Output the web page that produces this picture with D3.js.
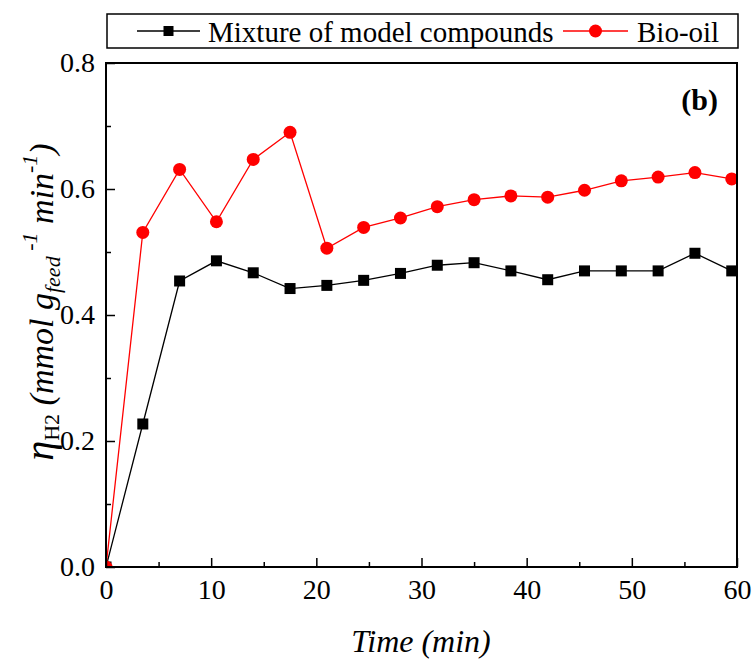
<!DOCTYPE html>
<html><head><meta charset="utf-8">
<script src="https://cdn.jsdelivr.net/npm/d3@7"></script>
<style>body{margin:0;background:#fff}svg{display:block}</style>
</head><body><svg id="c" width="752" height="660"></svg>
<script>
const times = [0,3.5,7,10.5,14,17.5,21,24.5,28,31.5,35,38.5,42,45.5,49,52.5,56,59.5];
const mixture = [0,0.227,0.454,0.486,0.467,0.442,0.447,0.455,0.466,0.479,0.483,0.470,0.456,0.470,0.470,0.470,0.498,0.470];
const bioOil = [0,0.531,0.631,0.548,0.647,0.690,0.506,0.539,0.554,0.572,0.583,0.589,0.587,0.598,0.613,0.619,0.626,0.616];
const xTicks = [0,10,20,30,40,50,60];
const yTicks = [0,0.2,0.4,0.6,0.8];
const seriesNames = ["Mixture of model compounds","Bio-oil"];

const FONT = "Liberation Serif";
const svg = d3.select("#c").attr("font-family",FONT);
const L=106,R=737,T=63,B=567;
const x = d3.scaleLinear().domain([0,60]).range([L,R]);
const y = d3.scaleLinear().domain([0,0.8]).range([B,T]);

svg.append("clipPath").attr("id","clip").append("rect").attr("x",L).attr("y",T).attr("width",R-L).attr("height",B-T);

const g = svg.append("g").attr("clip-path","url(#clip)");
const line = d3.line().x((d,i)=>x(times[i])).y(d=>y(d));
g.append("path").datum(mixture).attr("d",line).attr("fill","none").attr("stroke","#000").attr("stroke-width",1.3);
g.append("path").datum(bioOil).attr("d",line).attr("fill","none").attr("stroke","#ff0000").attr("stroke-width",1.3);
g.selectAll(".sq").data(mixture).enter().append("rect")
  .attr("x",(d,i)=>x(times[i])-5.5).attr("y",d=>y(d)-5.5).attr("width",11).attr("height",11).attr("fill","#000");
g.selectAll(".ci").data(bioOil).enter().append("circle")
  .attr("cx",(d,i)=>x(times[i])).attr("cy",d=>y(d)).attr("r",6.5).attr("fill","#ff0000");

// axes
const xa = svg.append("g").attr("transform",`translate(0,${B})`)
  .call(d3.axisBottom(x).tickValues(xTicks).tickSize(-9).tickPadding(12).tickFormat(d3.format("d")));
const xm = svg.append("g").attr("transform",`translate(0,${B})`)
  .call(d3.axisBottom(x).tickValues(d3.range(5,60,10)).tickSize(-5).tickFormat(""));
const ya = svg.append("g").attr("transform",`translate(${L},0)`)
  .call(d3.axisLeft(y).tickValues(yTicks).tickSize(-9).tickPadding(11).tickFormat(d3.format(".1f")));
const ym = svg.append("g").attr("transform",`translate(${L},0)`)
  .call(d3.axisLeft(y).tickValues([0.1,0.3,0.5,0.7]).tickSize(-5).tickFormat(""));
[xa,xm,ya,ym].forEach(a=>{a.attr("font-family",FONT).attr("font-size",28);a.select(".domain").remove();a.selectAll("line").attr("stroke","#000").attr("stroke-width",1.5);
  a.selectAll("text").attr("fill","#000");});

svg.append("rect").attr("x",L).attr("y",T).attr("width",R-L).attr("height",B-T)
  .attr("fill","none").attr("stroke","#000").attr("stroke-width",2);

svg.append("text").attr("x",718).attr("y",110).attr("text-anchor","end").attr("font-size",30).attr("font-weight","bold").text("(b)");

// axis titles
svg.append("text").attr("x",421).attr("y",652).attr("text-anchor","middle").attr("font-size",32).attr("font-style","italic").text("Time (min)");
const yt = svg.append("text").attr("transform",`translate(53,302) rotate(-90)`).attr("text-anchor","middle").attr("font-size",34).attr("font-style","italic");
yt.append("tspan").attr("font-size",40).text("η");
yt.append("tspan").attr("font-size",22).attr("font-style","normal").attr("dy",6).text("H2");
yt.append("tspan").attr("dy",-6).text(" (mmol g");
yt.append("tspan").attr("font-size",22).attr("dy",7).text("feed");
yt.append("tspan").attr("font-size",22).attr("dy",-23).text(" -1");
yt.append("tspan").attr("dy",16).text(" min");
yt.append("tspan").attr("font-size",22).attr("dy",-16).text("-1");
yt.append("tspan").attr("dy",16).text(")");

// legend
svg.append("rect").attr("x",107).attr("y",14).attr("width",631).attr("height",34).attr("fill","#fff").attr("stroke","#000").attr("stroke-width",1.5);
const lg = [{x1:137,x2:200,tx:208,color:"#000",shape:"sq"},{x1:563,x2:628,tx:637,color:"#ff0000",shape:"ci"}];
lg.forEach((d,i)=>{
  svg.append("line").attr("x1",d.x1).attr("x2",d.x2).attr("y1",31).attr("y2",31).attr("stroke",d.color).attr("stroke-width",1.3);
  const cx=(d.x1+d.x2)/2;
  if(d.shape==="sq") svg.append("rect").attr("x",cx-5).attr("y",26).attr("width",10).attr("height",10).attr("fill",d.color);
  else svg.append("circle").attr("cx",cx).attr("cy",31).attr("r",6.5).attr("fill",d.color);
  svg.append("text").attr("x",d.tx).attr("y",42).attr("font-size",29).text(seriesNames[i]);
});
</script></body></html>
